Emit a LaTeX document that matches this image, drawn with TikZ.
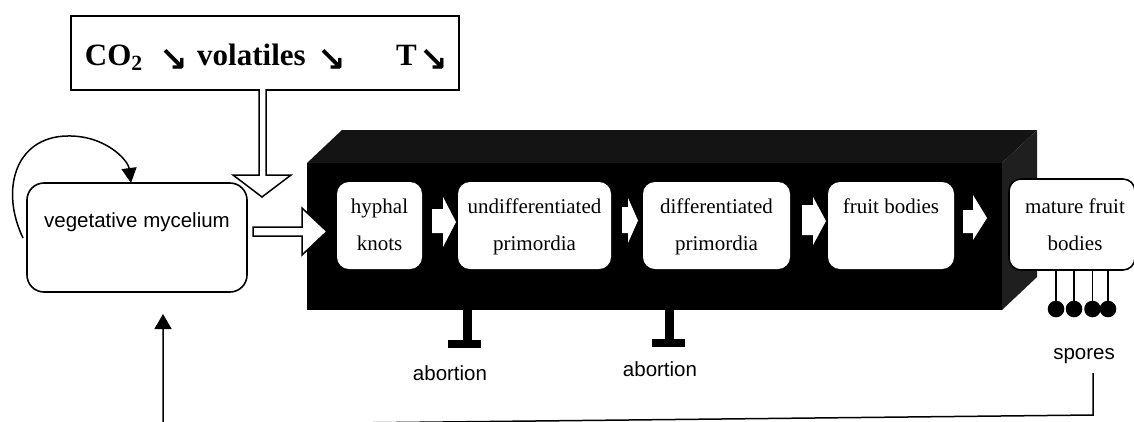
\documentclass[tikz,border=0pt]{standalone}
\usepackage{fontspec}
\setmainfont{Liberation Serif}
\setsansfont{Liberation Sans}
\newfontfamily\arrowfont{DejaVu Sans}
\usetikzlibrary{arrows.meta}
\begin{document}
\begin{tikzpicture}[x=1pt,y=-1pt,
  frame/.style={draw=black, line width=2pt},
  myc/.style={draw=black, line width=1.6pt, rounded corners=17pt, fill=white, inner sep=0pt},
  stage/.style={fill=white, rounded corners=12pt, inner sep=0pt},
  stagetxt/.style={font=\fontsize{21}{37}\selectfont, align=center, inner sep=0pt, anchor=north},
  sanstxt/.style={font=\sffamily\fontsize{20.5}{24}\selectfont, inner sep=0pt, anchor=base},
  toptxt/.style={font=\bfseries\fontsize{31}{36}\selectfont, inner sep=0pt},
  dgarrow/.style={font=\arrowfont\bfseries\fontsize{34}{38}\selectfont, inner sep=0pt, anchor=base},
  hollow/.style={draw=black, line width=1.5pt, fill=white, line join=miter},
  wblock/.style={fill=white},
  inhib/.style={line width=9pt},
  inhibbar/.style={line width=8pt},
  spore/.style={line width=1.3pt},
  link/.style={line width=1.5pt, -{Triangle[length=15pt,width=17pt]}},
  loop/.style={line width=1.5pt, -{Triangle[length=15pt,width=15pt]}},
]
\clip (0,0) rectangle (1134,421);
\fill[white] (0,0) rectangle (1134,421);

% top box
\node[frame, minimum width=388pt, minimum height=74pt, inner sep=0pt, anchor=north west] (env) at (70,15) {};
\node[toptxt, anchor=base east] (co2) at (143,65) {CO\textsubscript{2}};
\node[dgarrow] (a1) at (174,71) {↘};
\node[toptxt, anchor=base west] (vol) at (197,65) {volatiles};
\node[dgarrow] (a2) at (332,71) {↘};
\node[toptxt, anchor=base west] (tt) at (396,65) {T};
\node[dgarrow] (a3) at (434,71) {↘};

% black cuboid
\fill[black!92] (307,163) -- (342,130) -- (1037,130) -- (1002,163) -- cycle;
\fill[black!88] (1002,163) -- (1037,130) -- (1037,277) -- (1002,310) -- cycle;
\node[fill=black, minimum width=695pt, minimum height=147pt, inner sep=0pt, anchor=north west] (cube) at (307,163) {};

% vegetative mycelium
\node[myc, minimum width=220pt, minimum height=109pt] (veg) at (137,237.5) {};
\node[sanstxt] (vegt) at (137,227) {vegetative mycelium};

% self loop
\coordinate (l0) at (23,238);
\coordinate (l1) at (67,136);
\coordinate (l2) at (131,183);
\draw[loop] (l0) .. controls (0,190) and (15,137) .. (l1) .. controls (105,135) and (128,160) .. (l2);

% hollow arrows
\filldraw[hollow] (259,89) -- (259,175) -- (233,175) -- (262,197) -- (291,175) -- (266,175) -- (266,89);
\filldraw[hollow] (253,227) -- (302,227) -- (302,208) -- (327,231.5) -- (302,255) -- (302,236) -- (253,236) -- cycle;

% stages
\node[stage, minimum width=85pt, minimum height=87pt] (hk) at (379.5,225.5) {};
\node[stagetxt] (hkt) at (379.5,187.1) {\strut hyphal\\knots};
\node[stage, minimum width=153pt, minimum height=87pt] (up) at (534.5,225.5) {};
\node[stagetxt] (upt) at (534.5,187.1) {\strut undifferentiated\\primordia};
\node[stage, minimum width=147pt, minimum height=87pt] (dp) at (716.5,225.5) {};
\node[stagetxt] (dpt) at (716.5,187.1) {\strut differentiated\\primordia};
\node[stage, minimum width=126pt, minimum height=87pt] (fb) at (891,225.5) {};
\node[stagetxt] (fbt) at (891,187.1) {\strut fruit bodies};
\node[draw=black, line width=1.6pt, fill=white, rounded corners=12pt, inner sep=0pt, minimum width=126pt, minimum height=91pt] (mf) at (1072,224.5) {};
\node[stagetxt] (mft) at (1075,187.1) {\strut mature fruit\\bodies};

% white block arrows
\fill[wblock] (432,209) -- (443,209) -- (443,197) -- (456,222) -- (443,247) -- (443,233) -- (432,233) -- cycle;
\fill[wblock] (622,207) -- (628,207) -- (628,198) -- (638,220.5) -- (628,243) -- (628,233) -- (622,233) -- cycle;
\fill[wblock] (802,205) -- (813,205) -- (813,197) -- (826,221) -- (813,245) -- (813,235) -- (802,235) -- cycle;
\fill[wblock] (963,210) -- (973,210) -- (973,195) -- (987,218) -- (973,240) -- (973,233) -- (963,233) -- cycle;

% abortion
\draw[inhib] (467,310) -- (467,344);
\draw[inhibbar] (448,344) -- (481,344);
\draw[inhib] (669,310) -- (669,343);
\draw[inhibbar] (652,343) -- (685,343);
\node[sanstxt] (ab1) at (450,380) {abortion};
\node[sanstxt] (ab2) at (660,376) {abortion};

% spores
\foreach \sx in {1056,1074,1092.5,1108} {
  \draw[spore] (\sx,270) -- (\sx,309);
  \fill (\sx,309) circle (8.3);
}
\node[sanstxt] (sp) at (1084,359) {spores};

% feedback
\coordinate (s1) at (1093,373);
\coordinate (s2) at (1093,415);
\coordinate (s3) at (163,425);
\coordinate (tip) at (163,314);
\draw[link] (s1) -- (s2) -- (s3) -- (tip);
\end{tikzpicture}
\end{document}
